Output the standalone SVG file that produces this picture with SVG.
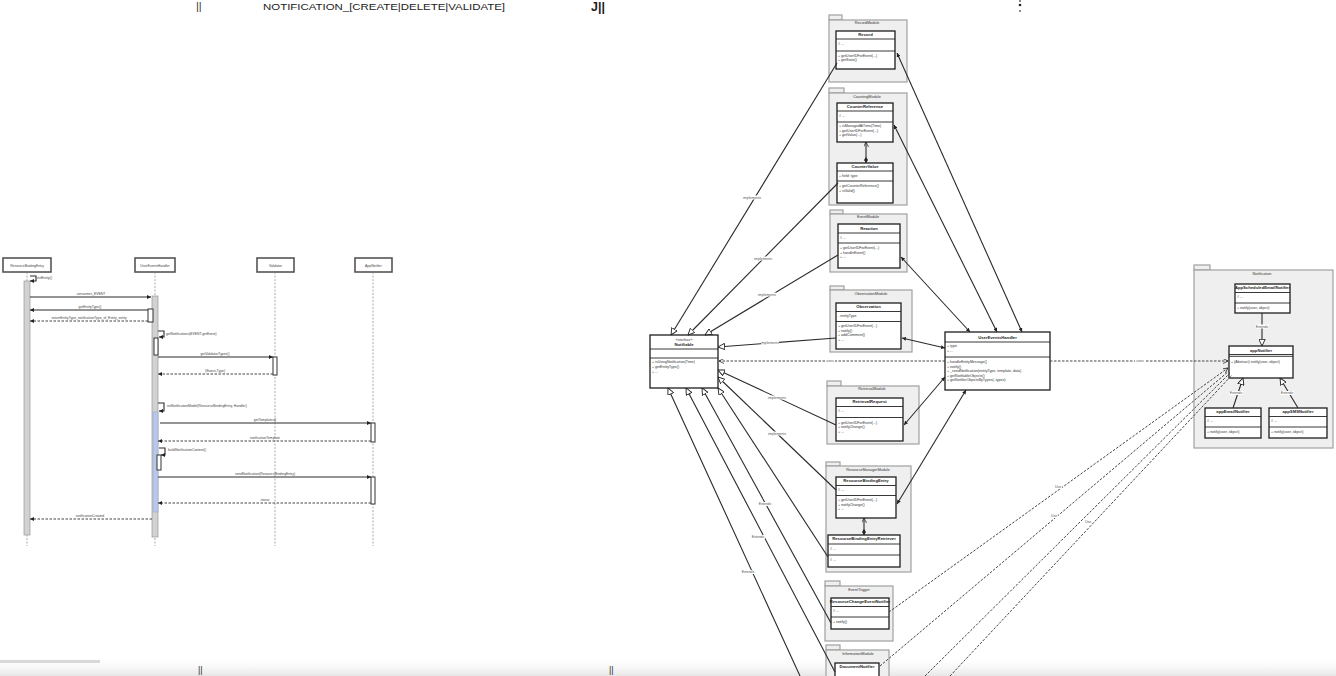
<svg xmlns="http://www.w3.org/2000/svg" width="1336" height="676" viewBox="0 0 1336 676">
<defs>
<style>
text{font-family:"Liberation Sans",Arial,sans-serif;fill:#333}
.t{font-size:3.6px;fill:#333}
.cn{font-size:4.2px;font-weight:bold;text-anchor:middle;fill:#222}
.pk{font-size:3.8px;text-anchor:middle;fill:#333}
.lb{font-size:3.5px;text-anchor:middle;fill:#555}
.sl{font-size:3.4px;text-anchor:middle;fill:#444}
.ss{font-size:3.4px;fill:#444}
.cls{fill:#fff;stroke:#1e1e1e;stroke-width:1.3}
.sep{stroke:#222;stroke-width:0.9}
.pkg{fill:#efefef;stroke:#a0a0a0;stroke-width:1.2}
.ln{fill:none;stroke:#2a2a2a;stroke-width:1.1}
.dl{fill:none;stroke:#444;stroke-width:1;stroke-dasharray:2.5 1.5}
.part{fill:#fff;stroke:#555;stroke-width:1.6}
.life{stroke:#888;stroke-width:0.7;stroke-dasharray:2 1.5}
.act{fill:#d2d2d2;stroke:#999;stroke-width:0.7}
.act2{fill:#fff;stroke:#333;stroke-width:1}
</style>
<marker id="fa" viewBox="0 0 10 10" refX="10" refY="5" markerWidth="4.5" markerHeight="4" markerUnits="userSpaceOnUse" orient="auto-start-reverse"><path d="M0,0 L10,5 L0,10 z" fill="#222"/></marker>
<marker id="oa" viewBox="0 0 10 10" refX="10" refY="5" markerWidth="5" markerHeight="5" markerUnits="userSpaceOnUse" orient="auto"><path d="M0,0 L10,5 L0,10" fill="none" stroke="#222" stroke-width="1.5"/></marker>
<marker id="tri" viewBox="0 0 10 10" refX="10" refY="5" markerWidth="7" markerHeight="7" markerUnits="userSpaceOnUse" orient="auto"><path d="M0.5,0.5 L10,5 L0.5,9.5 z" fill="#fff" stroke="#222" stroke-width="1.3"/></marker>
<marker id="dia" viewBox="0 0 12 8" refX="0" refY="4" markerWidth="6" markerHeight="4" markerUnits="userSpaceOnUse" orient="auto"><path d="M0,4 L6,0 L12,4 L6,8 z" fill="#222"/></marker>
<linearGradient id="bot" x1="0" y1="0" x2="0" y2="1"><stop offset="0" stop-color="#fff" stop-opacity="0"/><stop offset="1" stop-color="#e6e6e6"/></linearGradient>
</defs>
<rect width="1336" height="676" fill="#fff"/>
<rect x="0" y="656" width="1336" height="20" fill="url(#bot)"/>
<rect x="0" y="660" width="100" height="3" fill="#d8d8d8"/>

<!-- top fragments -->
<g id="top-text">
<text x="196" y="10" style="font-size:11px;fill:#333">||</text>
<text x="263" y="9.5" style="font-size:9px;fill:#222" textLength="242" lengthAdjust="spacingAndGlyphs">NOTIFICATION_[CREATE|DELETE|VALIDATE]</text>
<text x="591" y="11" style="font-size:12.5px;font-weight:bold;fill:#222">J||</text>
<circle cx="1020" cy="1" r="0.9" fill="#555"/><circle cx="1020" cy="5" r="1.3" fill="#222"/><circle cx="1020" cy="11" r="0.9" fill="#555"/>
<text x="198" y="673" style="font-size:9px;fill:#333">||</text>
<text x="609" y="673" style="font-size:9px;fill:#333">||</text>
</g>

<!-- ===== Sequence diagram ===== -->
<g id="seq-participants">
<g id="p-resource"><rect class="part" x="3" y="258" width="48" height="14"/><text class="sl" x="27" y="266.5">ResourceBindingEntry</text></g>
<g id="p-handler"><rect class="part" x="135" y="258" width="40" height="14"/><text class="sl" x="155" y="266.5">UserEventsHandler</text></g>
<g id="p-validator"><rect class="part" x="257" y="258" width="37" height="14"/><text class="sl" x="275.5" y="266.5">Validator</text></g>
<g id="p-notifier"><rect class="part" x="355" y="258" width="37" height="14"/><text class="sl" x="373.5" y="266.5">AppNotifier</text></g>
</g>
<g id="seq-lifelines">
<line class="life" x1="27" y1="272" x2="27" y2="546"/>
<line class="life" x1="155" y1="272" x2="155" y2="546"/>
<line class="life" x1="275" y1="272" x2="275" y2="546"/>
<line class="life" x1="373" y1="272" x2="373" y2="546"/>
<rect class="act" x="24" y="281" width="6" height="254"/>
<rect class="act" x="152" y="296" width="6" height="241"/>
<rect x="153" y="412" width="5" height="100" fill="#b9c8e8" stroke="#8fa3cf" stroke-width="0.5"/>
<rect class="act2" x="148" y="309" width="5" height="13"/>
<rect class="act2" x="154" y="338" width="4" height="17"/>
<rect class="act2" x="273" y="357" width="4" height="18"/>
<rect class="act2" x="371" y="423" width="4" height="19"/>
<rect class="act2" x="157" y="455" width="4" height="15"/>
<rect class="act2" x="371" y="477" width="4" height="27"/>
</g>
<g id="seq-messages">
<path class="ln" d="M30,276 h6 v5 h-6" marker-end="url(#fa)"/><text class="ss" x="37" y="279">initEntity()</text>
<path class="ln" d="M30,297 H151" marker-end="url(#fa)"/><text class="sl" x="91" y="295">consumes_EVENT</text>
<path class="ln" d="M148,310 H30" marker-end="url(#fa)"/><text class="sl" x="90" y="308">getEntityType()</text>
<path class="dl" d="M148,321 H30" marker-end="url(#fa)"/><text class="sl" x="89" y="319">returnEntityType_notificationType_of_Entity_entity</text>
<path class="ln" d="M158,331 h6 v6 h-5" marker-end="url(#fa)"/><text class="ss" x="166" y="335">getNotifications(EVENT.getEvent)</text>
<path class="ln" d="M158,357 H273" marker-end="url(#fa)"/><text class="sl" x="215" y="355">getValidatorTypes()</text>
<path class="dl" d="M273,374 H158" marker-end="url(#fa)"/><text class="sl" x="215" y="372">(Status,Type)</text>
<path class="ln" d="M158,403 h6 v8 h-5" marker-end="url(#fa)"/><text class="ss" x="167" y="407">initNotificationModel(ResourceBindingEntry, Handler)</text>
<path class="ln" d="M160,423 H371" marker-end="url(#fa)"/><text class="sl" x="265" y="421">getTemplates()</text>
<path class="dl" d="M371,441 H158" marker-end="url(#fa)"/><text class="sl" x="265" y="439">notificationTemplate</text>
<path class="ln" d="M159,448 h6 v7 h-4" marker-end="url(#fa)"/><text class="ss" x="168" y="451">buildNotificationContent()</text>
<path class="ln" d="M158,477 H371" marker-end="url(#fa)"/><text class="sl" x="265" y="475">sendNotification(ResourceBindingEntry)</text>
<path class="dl" d="M371,503 H158" marker-end="url(#fa)"/><text class="sl" x="265" y="501">status</text>
<path class="dl" d="M152,519 H30" marker-end="url(#fa)"/><text class="sl" x="90" y="517">notificationCreated</text>
</g>

<!-- ===== Class diagram: packages & classes ===== -->
<g id="pkg-record">
<rect class="pkg" x="829" y="15" width="13" height="5"/><rect class="pkg" x="829" y="20" width="78" height="62"/><text class="pk" x="867" y="24">RecordModule</text>
<rect class="cls" x="836" y="31" width="59" height="38"/><text class="cn" x="865.5" y="36">Record</text>
<line class="sep" x1="836" y1="39" x2="895" y2="39"/><text class="t" x="838" y="45">#  ...</text>
<line class="sep" x1="836" y1="51" x2="895" y2="51"/><text class="t" x="838" y="56.5">+ getUserIDForEvent(...)</text><text class="t" x="838" y="61">+ getState()</text>
</g>
<g id="pkg-counting">
<rect class="pkg" x="829" y="88" width="15" height="5"/><rect class="pkg" x="829" y="93" width="78" height="112"/><text class="pk" x="867" y="97.5">CountingModule</text>
<g id="cls-counterref"><rect class="cls" x="837" y="103" width="56" height="39"/><text class="cn" x="865" y="108">CounterReference</text>
<line class="sep" x1="837" y1="111" x2="893" y2="111"/><text class="t" x="839" y="117">#  ...</text>
<line class="sep" x1="837" y1="122" x2="893" y2="122"/><text class="t" x="839" y="127">+ isManagedAtTime(Time)</text><text class="t" x="839" y="131.5">+ getUserIDForEvent(...)</text><text class="t" x="839" y="136">+ getValue(...)</text></g>
<g id="cls-countervalue"><rect class="cls" x="837" y="163" width="56" height="40"/><text class="cn" x="865" y="168">CounterValue</text>
<line class="sep" x1="837" y1="171" x2="893" y2="171"/><text class="t" x="839" y="176.5">+ field: type</text>
<line class="sep" x1="837" y1="181" x2="893" y2="181"/><text class="t" x="839" y="187">+ getCounterReference()</text><text class="t" x="839" y="192">+ isValid()</text></g>
</g>
<g id="pkg-event">
<rect class="pkg" x="830" y="210" width="13" height="4"/><rect class="pkg" x="830" y="214" width="77" height="58"/><text class="pk" x="868" y="218">EventModule</text>
<rect class="cls" x="838" y="224" width="62" height="44"/><text class="cn" x="869" y="229.5">Reaction</text>
<line class="sep" x1="838" y1="233" x2="900" y2="233"/><text class="t" x="840" y="239">#  ...</text>
<line class="sep" x1="838" y1="243" x2="900" y2="243"/><text class="t" x="840" y="249">+ getUserIDForEvent(...)</text><text class="t" x="840" y="253.5">+ handleEvent()</text><text class="t" x="840" y="258">+ ...</text>
</g>
<g id="pkg-observation">
<rect class="pkg" x="830" y="286" width="14" height="4"/><rect class="pkg" x="830" y="290" width="82" height="62"/><text class="pk" x="871" y="294.5">ObservationModule</text>
<rect class="cls" x="836" y="303" width="65" height="46"/><text class="cn" x="868.5" y="308">Observation</text>
<line class="sep" x1="836" y1="311.5" x2="901" y2="311.5"/><text class="t" x="838" y="317">- entityType</text>
<line class="sep" x1="836" y1="321.5" x2="901" y2="321.5"/><text class="t" x="838" y="327">+ getUserIDForEvent(...)</text><text class="t" x="838" y="331.5">+ notify()</text><text class="t" x="838" y="336">+ addComment()</text><text class="t" x="838" y="340.5">+ ...</text>
</g>
<g id="pkg-retrieval">
<rect class="pkg" x="827" y="381" width="14" height="5"/><rect class="pkg" x="827" y="386" width="92" height="58"/><text class="pk" x="872" y="390">RetrievalModule</text>
<rect class="cls" x="836" y="398" width="67" height="43"/><text class="cn" x="869.5" y="403">RetrievalRequest</text>
<line class="sep" x1="836" y1="406.5" x2="903" y2="406.5"/><text class="t" x="838" y="412">#  ...</text>
<line class="sep" x1="836" y1="417.5" x2="903" y2="417.5"/><text class="t" x="838" y="423.5">+ getUserIDForEvent(...)</text><text class="t" x="838" y="428">+ notifyChange()</text><text class="t" x="838" y="433">+ ...</text>
</g>
<g id="pkg-resourcemanager">
<rect class="pkg" x="826" y="462" width="14" height="4"/><rect class="pkg" x="826" y="466" width="85" height="106"/><text class="pk" x="868" y="470.5">ResourceManagerModule</text>
<g id="cls-rbe"><rect class="cls" x="836" y="477" width="60" height="41"/><text class="cn" x="866" y="482">ResourceBindingEntry</text>
<line class="sep" x1="836" y1="485.5" x2="896" y2="485.5"/><text class="t" x="838" y="490.5">#  ...</text>
<line class="sep" x1="836" y1="495.5" x2="896" y2="495.5"/><text class="t" x="838" y="501">+ getUserIDForEvent(...)</text><text class="t" x="838" y="505.5">+ notifyChange()</text><text class="t" x="838" y="510">+ ...</text></g>
<g id="cls-rber"><rect class="cls" x="828" y="535" width="72" height="32"/><text class="cn" x="864" y="540">ResourceBindingEntryRetriever</text>
<line class="sep" x1="828" y1="544" x2="900" y2="544"/><text class="t" x="830" y="550">#  ...</text>
<line class="sep" x1="828" y1="555" x2="900" y2="555"/><text class="t" x="830" y="561">#  ...</text></g>
</g>
<g id="pkg-eventtrigger">
<rect class="pkg" x="825" y="581" width="15" height="5"/><rect class="pkg" x="825" y="586" width="68" height="55"/><text class="pk" x="859" y="590.5">EventTrigger</text>
<rect class="cls" x="831" y="598" width="58" height="31"/><text class="cn" x="860" y="603">ResourceChangeEventNotifier</text>
<line class="sep" x1="831" y1="606.5" x2="889" y2="606.5"/><text class="t" x="833" y="612">#  ...</text>
<line class="sep" x1="831" y1="617" x2="889" y2="617"/><text class="t" x="833" y="623">+ notify()</text>
</g>
<g id="pkg-information">
<rect class="pkg" x="826" y="645" width="14" height="5"/><rect class="pkg" x="826" y="650" width="63" height="30"/><text class="pk" x="858" y="654.5">InformationModule</text>
<rect class="cls" x="835" y="663" width="44" height="20"/><text class="cn" x="857" y="668">DocumentNotifier</text>
</g>
<g id="cls-notifiable">
<rect class="cls" x="650" y="335" width="68" height="53"/>
<text class="pk" x="684" y="340.5" style="font-size:3.4px">«interface»</text><text class="cn" x="684" y="346">Notifiable</text>
<line class="sep" x1="650" y1="349" x2="718" y2="349"/><line class="sep" x1="650" y1="358" x2="718" y2="358"/>
<text class="t" x="652" y="363">+ isUsingNotification(Time)</text><text class="t" x="652" y="368">+ getEntityType()</text><text class="t" x="652" y="373">+ ...</text>
</g>
<g id="cls-usereventshandler">
<rect class="cls" x="945" y="332" width="105" height="58"/><text class="cn" x="997.5" y="338.5">UserEventsHandler</text>
<line class="sep" x1="945" y1="342" x2="1050" y2="342"/><text class="t" x="947" y="347">+ type</text><text class="t" x="947" y="351.5">+ ...</text>
<line class="sep" x1="945" y1="357" x2="1050" y2="357"/>
<text class="t" x="947" y="363">+ handleEntityMessage()</text><text class="t" x="947" y="367.5">+ notify()</text><text class="t" x="947" y="372">+ _sendNotification(entityType, template, data)</text><text class="t" x="947" y="376.5">+ getNotifiableObjects()</text><text class="t" x="947" y="381">+ getNotifierObjectsByTypes(..types)</text>
</g>
<g id="pkg-notification">
<rect class="pkg" x="1194" y="265" width="16" height="5"/><rect class="pkg" x="1194" y="270" width="139" height="178"/><text class="pk" x="1262" y="275">Notification</text>
<g id="cls-appscheduled"><rect class="cls" x="1235" y="284" width="55" height="29"/><text class="cn" x="1262.5" y="289">AppScheduledEmailNotifier</text>
<line class="sep" x1="1235" y1="292.5" x2="1290" y2="292.5"/><text class="t" x="1237" y="298">#  ...</text>
<line class="sep" x1="1235" y1="303" x2="1290" y2="303"/><text class="t" x="1237" y="309">+ notify(user, object)</text></g>
<g id="cls-appnotifier"><rect class="cls" x="1229" y="346" width="64" height="32"/><text class="cn" x="1261" y="351.5">appNotifier</text>
<line class="sep" x1="1229" y1="354.5" x2="1293" y2="354.5"/><line class="sep" x1="1229" y1="356.3" x2="1293" y2="356.3"/><text class="t" x="1231" y="363">+ (Abstract) notify(user, object)</text></g>
<g id="cls-appemail"><rect class="cls" x="1205" y="408" width="56" height="30"/><text class="cn" x="1233" y="413">appEmailNotifier</text>
<line class="sep" x1="1205" y1="416.5" x2="1261" y2="416.5"/><text class="t" x="1207" y="422">#  ...</text>
<line class="sep" x1="1205" y1="427" x2="1261" y2="427"/><text class="t" x="1207" y="433">+ notify(user, object)</text></g>
<g id="cls-appsms"><rect class="cls" x="1269" y="408" width="58" height="30"/><text class="cn" x="1298" y="413">appSMSNotifier</text>
<line class="sep" x1="1269" y1="416.5" x2="1327" y2="416.5"/><text class="t" x="1271" y="422">#  ...</text>
<line class="sep" x1="1269" y1="427" x2="1327" y2="427"/><text class="t" x="1271" y="433">+ notify(user, object)</text></g>
</g>

<!-- ===== Connectors ===== -->
<g id="connectors">
<path class="ln" d="M837,63 L671,335" marker-end="url(#tri)"/>
<path class="ln" d="M838,183 L688,335" marker-end="url(#tri)"/>
<path class="ln" d="M838,255 L705,335" marker-end="url(#tri)"/>
<path class="ln" d="M836,338 L718,347" marker-end="url(#tri)"/>
<path class="ln" d="M836,425 L718,370" marker-end="url(#tri)"/>
<path class="ln" d="M836,490 L718,377" marker-end="url(#tri)"/>
<path class="ln" d="M828,557 L718,388" marker-end="url(#tri)"/>
<path class="ln" d="M831,623 L702,388" marker-end="url(#tri)"/>
<path class="ln" d="M835,672 L686,388" marker-end="url(#tri)"/>
<path class="ln" d="M800,676 L668,388" marker-end="url(#tri)"/>
<path class="ln" d="M897,53 L1022,332" marker-start="url(#fa)" marker-end="url(#fa)"/>
<path class="ln" d="M894,125 L997,332" marker-start="url(#fa)" marker-end="url(#fa)"/>
<path class="ln" d="M901,257 L970,332" marker-start="url(#fa)" marker-end="url(#fa)"/>
<path class="ln" d="M902,338 L945,348" marker-start="url(#fa)" marker-end="url(#fa)"/>
<path class="ln" d="M904,425 L945,377" marker-start="url(#fa)" marker-end="url(#fa)"/>
<path class="ln" d="M897,504 L966,390" marker-start="url(#fa)" marker-end="url(#fa)"/>
<path class="ln" d="M866,163 L866,142" marker-start="url(#dia)" marker-end="url(#oa)"/>
<path class="ln" d="M864,535 L864,518" marker-start="url(#dia)" marker-end="url(#oa)"/>
<path class="dl" d="M945,361 L719,361" marker-end="url(#oa)"/>
<path class="dl" d="M1050,361 L1228,361" marker-end="url(#oa)"/>
<path class="dl" d="M889,612 L1228,368" marker-end="url(#oa)"/>
<path class="dl" d="M880,666 L1229,371"/>
<path class="dl" d="M925,676 L1230,373"/>
<path class="dl" d="M950,676 L1232,375"/>
<path class="ln" d="M1262,313 L1262,346" marker-end="url(#tri)"/>
<path class="ln" d="M1233,408 L1243,378" marker-end="url(#tri)"/>
<path class="ln" d="M1298,408 L1280,378" marker-end="url(#tri)"/>
<g class="lbl">
<rect x="743" y="195.5" width="18" height="4" fill="#fff"/><text class="lb" x="752" y="198.8">implements</text>
<rect x="754" y="256.5" width="18" height="4" fill="#fff"/><text class="lb" x="763" y="259.8">implements</text>
<rect x="758" y="292.5" width="18" height="4" fill="#fff"/><text class="lb" x="767" y="295.8">implements</text>
<rect x="761" y="340.5" width="18" height="4" fill="#fff"/><text class="lb" x="770" y="343.8">implements</text>
<rect x="768" y="395.5" width="18" height="4" fill="#fff"/><text class="lb" x="777" y="398.8">implements</text>
<rect x="768" y="431.5" width="18" height="4" fill="#fff"/><text class="lb" x="777" y="434.8">implements</text>
<rect x="758" y="502" width="14" height="4" fill="#fff"/><text class="lb" x="765" y="505.3">Extends</text>
<rect x="751" y="535" width="14" height="4" fill="#fff"/><text class="lb" x="758" y="538.3">Extends</text>
<rect x="741" y="570" width="14" height="4" fill="#fff"/><text class="lb" x="748" y="573.3">Extends</text>
<rect x="825" y="358.5" width="10" height="4" fill="#fff"/><text class="lb" x="830" y="361.8">uses</text>
<rect x="1135" y="358.5" width="10" height="4" fill="#fff"/><text class="lb" x="1140" y="361.8">uses</text>
<rect x="1054" y="485" width="8" height="4" fill="#fff"/><text class="lb" x="1058" y="488.3">Use</text>
<rect x="1050" y="514" width="8" height="4" fill="#fff"/><text class="lb" x="1054" y="517.3">Use</text>
<rect x="1084" y="520" width="8" height="4" fill="#fff"/><text class="lb" x="1088" y="523.3">Use</text>
<rect x="1255" y="324.5" width="14" height="4" fill="#fff"/><text class="lb" x="1262" y="327.8">Extends</text>
<rect x="1229" y="391" width="14" height="4" fill="#fff"/><text class="lb" x="1236" y="394.3">Extends</text>
<rect x="1280" y="391" width="14" height="4" fill="#fff"/><text class="lb" x="1287" y="394.3">Extends</text>
</g>
</g>
</svg>
